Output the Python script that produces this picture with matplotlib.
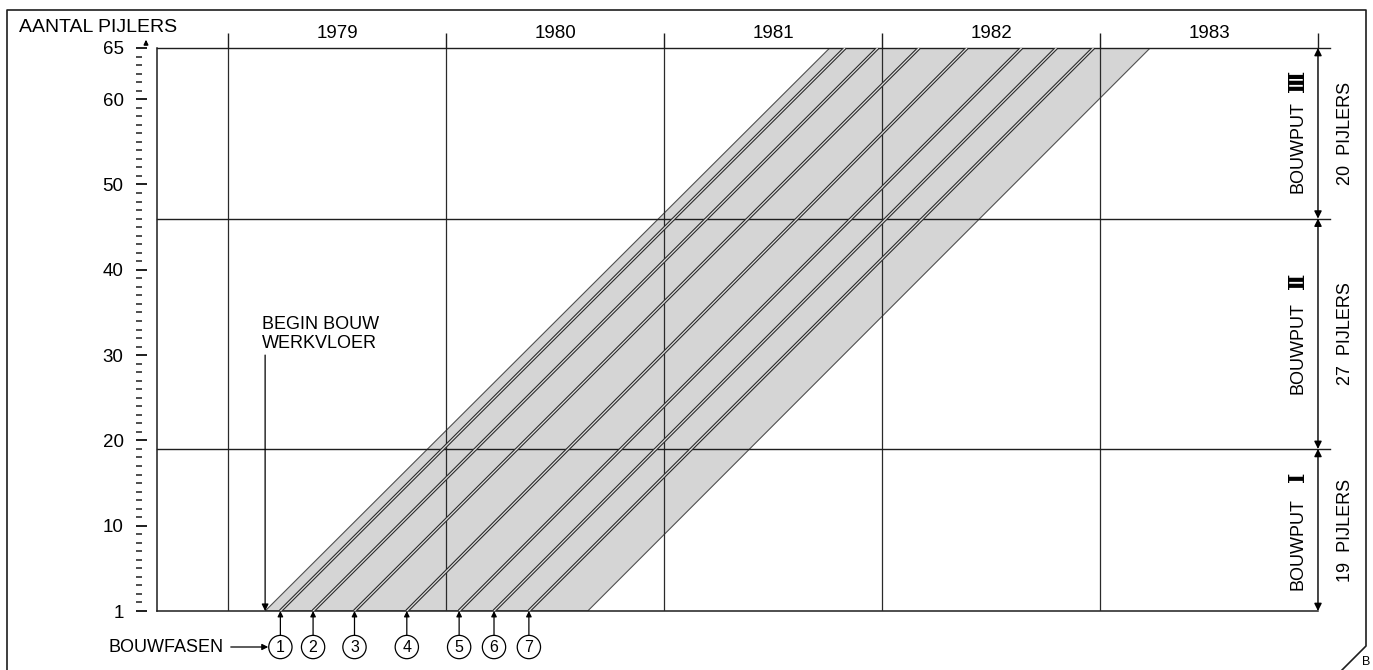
import matplotlib
matplotlib.use('Agg')
import matplotlib.pyplot as plt
import matplotlib.transforms as mtransforms
from matplotlib.lines import Line2D
from matplotlib.patches import FancyArrowPatch
from matplotlib.ticker import MultipleLocator
import numpy as np

plt.rcParams['font.family'] = ['Liberation Sans', 'DejaVu Sans']

# DATA
years = [1979, 1980, 1981, 1982, 1983]
phase_labels = ['1', '2', '3', '4', '5', '6', '7']
phase_start = [1979.24, 1979.39, 1979.58, 1979.82, 1980.06, 1980.22, 1980.38]   # pijler 1
phase_end = [1981.83, 1981.98, 1982.17, 1982.39, 1982.64, 1982.80, 1982.97]     # pijler 65
band_start = [1979.17, 1980.65]
band_end = [1981.76, 1983.23]
bouwput_numerals = ['\u2160', '\u2161', '\u2162']
bouwput_pijlers = [19, 27, 20]
ytick_pos = [0, 10, 20, 30, 40, 50, 60, 66]
ytick_labels = ['1', '10', '20', '30', '40', '50', '60', '65']

W, H = 1373, 670
ink = '#1e1e1e'
fs = 13

fig = plt.figure(figsize=(W / 100, H / 100), dpi=100)
ax = fig.add_axes([157 / W, 59 / H, 1161 / W, 563 / H])

x0 = 1978.674
x1 = years[-1] + 1
top = sum(bouwput_pijlers)
ax.set_xlim(x0, x1)
ax.set_ylim(0, top)

blend = mtransforms.blended_transform_factory(ax.transAxes, ax.transData)
blend_x = mtransforms.blended_transform_factory(ax.transData, ax.transAxes)

# spines
for s in ['right', 'top']:
    ax.spines[s].set_color('none')
ax.spines['left'].set_position(('outward', 15))
ax.spines['left'].set_color('none')
ax.spines['bottom'].set_color(ink)
ax.spines['bottom'].set_linewidth(1.1)
ax.axvline(x0, color=ink, lw=1.1, clip_on=False, zorder=3)

# y ticks
ax.set_yticks(ytick_pos, ytick_labels)
ax.yaxis.set_minor_locator(MultipleLocator(1))
ax.tick_params(axis='y', which='major', direction='in', length=8, width=1.4,
               color=ink, pad=9, labelsize=13.5)
ax.tick_params(axis='y', which='minor', direction='in', length=4, width=1.1, color=ink)

# x ticks on top: year borders + year labels in between
edges = years + [x1]
ax.xaxis.set_ticks_position('top')
ax.set_xticks(edges, [''] * len(edges))
ax.set_xticks([y + 0.5 for y in years], [str(y) for y in years], minor=True)
ax.tick_params(axis='x', which='major', direction='out', length=11, width=1, color=ink)
ax.tick_params(axis='x', which='minor', length=0, pad=4, labelsize=13.5)
ax.grid(axis='x', which='major', color='#2a2a2a', lw=0.9)
ax.set_axisbelow(False)

# gray band
ax.fill([band_start[0], band_start[1], band_end[1], band_end[0]], [0, 0, top, top],
        fc='#d5d5d5', ec='#505050', lw=0.8, zorder=1)

# horizontal bouwput borders (and top line), running out to the right
bounds = np.cumsum(bouwput_pijlers)
for b in bounds:
    ax.plot([0, 1.0103], [b, b], color=ink, lw=1.0, transform=blend, clip_on=False, zorder=2.6)

# phase lines (double line)
for s, e in zip(phase_start, phase_end):
    ax.plot([s, e], [0, top], color='#2b2b2b', lw=2.5, solid_capstyle='butt', zorder=4)
    ax.plot([s, e], [0, top], color='#dedede', lw=0.9, solid_capstyle='butt', zorder=5)

# right side dimension arrows + labels
lows = [0] + list(bounds[:-1])
for lo, hi, num, n in zip(lows, bounds, bouwput_numerals, bouwput_pijlers):
    ax.annotate('', xy=(1, lo), xytext=(1, hi), xycoords=blend, textcoords=blend,
                arrowprops=dict(arrowstyle='<|-|>', color='black', lw=1.0,
                                mutation_scale=11, shrinkA=0, shrinkB=0), annotation_clip=False)
    mid = (lo + hi) / 2
    ax.annotate('BOUWPUT', xy=(0.9828, mid), xycoords=blend, xytext=(0, -10),
                textcoords='offset points', rotation=90, ha='center', va='center', fontsize=fs,
                annotation_clip=False)
    ax.annotate(num, xy=(0.9828, mid), xycoords=blend, xytext=(0, 38),
                textcoords='offset points', rotation=90, ha='center', va='center', fontsize=16,
                fontweight='bold', family=['DejaVu Serif', 'DejaVu Sans'], annotation_clip=False)
    ax.text(1.0233, mid, f'{n}  PIJLERS', rotation=90, ha='center', va='center',
            fontsize=fs, transform=blend, clip_on=False)

# begin bouw werkvloer
ax.text(band_start[0] - 0.016, 34.6, 'BEGIN BOUW\nWERKVLOER', ha='left', va='top',
        fontsize=fs, linespacing=1.15)
ax.annotate('', xy=(band_start[0], 0), xytext=(band_start[0], 30.0),
            arrowprops=dict(arrowstyle='-|>', color='black', lw=0.9, mutation_scale=10,
                            shrinkA=0, shrinkB=0))

# bouwfasen circles
for s, lab in zip(phase_start, phase_labels):
    ax.annotate('', xy=(s, 0), xytext=(s, -0.043), xycoords=blend_x, textcoords=blend_x,
                arrowprops=dict(arrowstyle='-|>', color='black', lw=0.9, mutation_scale=8,
                                shrinkA=0, shrinkB=0), annotation_clip=False)
    ax.text(s, -0.064, lab, ha='center', va='center', fontsize=11.5, transform=blend_x,
            bbox=dict(boxstyle='circle,pad=0.26', fc='white', ec='black', lw=0.9))

fig.text(108 / W, 1 - 647 / H, 'BOUWFASEN', ha='left', va='center', fontsize=fs)
fig.add_artist(FancyArrowPatch((228 / W, 1 - 647 / H), (271 / W, 1 - 647 / H),
               transform=fig.transFigure, arrowstyle='-|>', mutation_scale=9, color='black', lw=0.9))

# y axis title + small arrow
fig.text(19 / W, 1 - 32 / H, 'AANTAL PIJLERS', ha='left', va='baseline', fontsize=14)
fig.add_artist(FancyArrowPatch((146 / W, 1 - 46 / H), (146 / W, 1 - 37 / H),
               transform=fig.transFigure, arrowstyle='-|>', mutation_scale=6, color='black', lw=1.2))

# outer frame with cut corner
fx = [7, 7, 1366, 1366, 1342]
fy = [670, 10, 10, 646, 670]
fig.add_artist(Line2D([x / W for x in fx], [1 - y / H for y in fy], transform=fig.transFigure,
                      color=ink, lw=1.2))
fig.text(1366 / W, 1 - 662 / H, 'B', ha='center', va='center', fontsize=9)

fig.savefig('out.png', dpi=100)
